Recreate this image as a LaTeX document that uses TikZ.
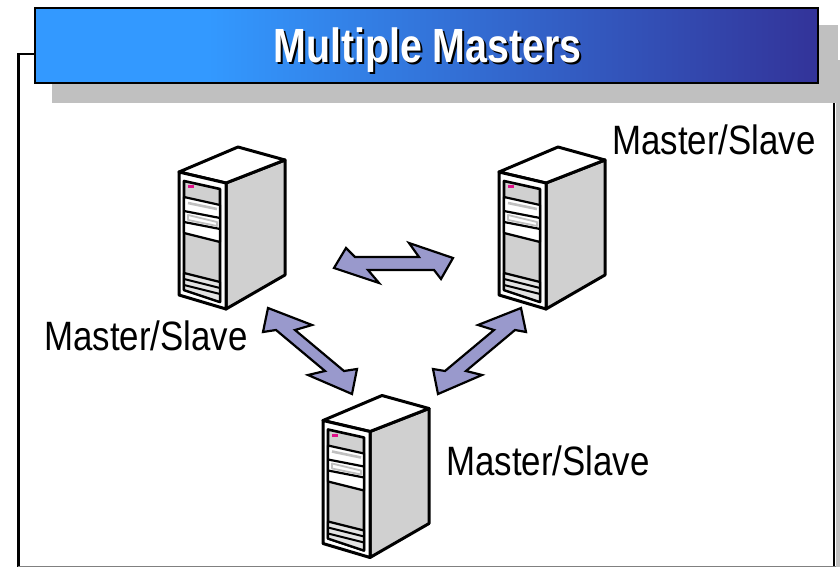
\documentclass[tikz,border=0pt]{standalone}
\usepackage{fontspec}
\setmainfont{Liberation Sans}
\definecolor{bannerblue}{HTML}{3399FF}
\definecolor{bannerdark}{HTML}{333399}
\definecolor{shadowgray}{HTML}{C0C0C0}
\definecolor{linkblue}{HTML}{9999CC}
\definecolor{panelgray}{HTML}{D0D0D0}
\definecolor{ledpink}{HTML}{E0108A}
\pgfdeclarehorizontalshading{bannershade}{100bp}{
    color(0bp)=(bannerblue); color(36bp)=(bannerblue); color(75bp)=(bannerdark); color(100bp)=(bannerdark)}

\begin{document}
\begin{tikzpicture}[x=1pt, y=-1pt, line join=miter]
    \tikzset{
        caselabel/.style={font=\fontsize{41}{41}\selectfont, inner sep=0pt, anchor=base west, xscale=.85},
        linkarrow/.style={draw=black, line width=2.2pt, fill=linkblue, miter limit=4},
        titletext/.style={font=\fontsize{48}{48}\selectfont\bfseries, inner sep=0pt, anchor=base, xscale=.82},
        pics/server/.style={
            code={
                \begin{scope}[line join=round]
                \draw[line width=3pt, fill=panelgray] (47,11) -- (106,-12) -- (106,103) -- (47,137) -- cycle;
                \draw[line width=3pt, fill=white] (0,0) -- (59,-25) -- (106,-12) -- (47,11) -- cycle;
                \draw[line width=3pt, fill=white] (0,0) -- (47,11) -- (47,137) -- (0,123) -- cycle;
                \draw[line width=2.6pt, fill=panelgray] (5,9) -- (41,17) -- (41,130) -- (5,118) -- cycle;
                % Bays
                \draw[line width=2.2pt, fill=white] (5,25) -- (41,33) -- (41,70) -- (5,61) -- cycle;
                \draw[line width=2.2pt] (5,39) -- (41,46);
                \draw[line width=2.2pt] (5,50) -- (41,57);
                % Vents
                \draw[line width=2.2pt, fill=panelgray!60] (5,101) -- (41,110) -- (41,130) -- (5,118) -- cycle;
                \draw[line width=2pt] (5,107) -- (41,116);
                \draw[line width=2pt] (5,113) -- (41,122);
                % Slots
                \draw[line width=2.6pt, shadowgray] (9,31) -- (38,37);
                \draw[line width=1.8pt, shadowgray] (9,43) -- (38,50) -- (38,54) -- (9,48) -- cycle;
                \end{scope}
                \fill[ledpink] (9,13) rectangle (15,16);
            },
        },
    }
    \useasboundingbox (0,0) rectangle (840,567);

    % Frame
    \fill[shadowgray] (836,60) rectangle (840,567);
    \draw[line width=2.6pt] (36,54) -- (18.5,54) -- (18.5,567);
    \draw[line width=2.6pt] (834,100) -- (834,566);
    \fill[gray] (18,565.5) rectangle (836,567);

    % Banner
    \fill[shadowgray] (52,25) rectangle (838,103);
    \draw[line width=2.6pt, shading=bannershade] (35,8) rectangle (818,83);
    \node[titletext, black] (titleshadow) at (429.5,65) {Multiple Masters};
    \node[titletext, white] (title) at (427.5,63) {Multiple Masters};

    % Servers
    \pic (serverleft) at (179,172) {server};
    \pic (serverright) at (499,172) {server};
    \pic (serverbottom) at (323,420.5) {server};

    % Labels
    \node[caselabel] (labelleft) at (44,350) {Master/Slave};
    \node[caselabel] (labelright) at (612,154) {Master/Slave};
    \node[caselabel] (labelbottom) at (446,475) {Master/Slave};

    % Arrows
    \draw[linkarrow] (334,268) -- (346,248) -- (355,257) -- (419,257) -- (409,243) -- (453,258)
        -- (441,279) -- (434,270) -- (368,270) -- (379,283) -- cycle;
    \draw[linkarrow] (268,308) -- (312,325) -- (295,330) -- (344,371) -- (357,369) -- (352,394)
        -- (308,375) -- (325,371) -- (276,330) -- (263,332) -- cycle;
    \draw[linkarrow] (521,308) -- (526,332) -- (515,330) -- (466,371) -- (482,375) -- (438,394)
        -- (433,369) -- (445,371) -- (494,330) -- (478,325) -- cycle;
\end{tikzpicture}
\end{document}
